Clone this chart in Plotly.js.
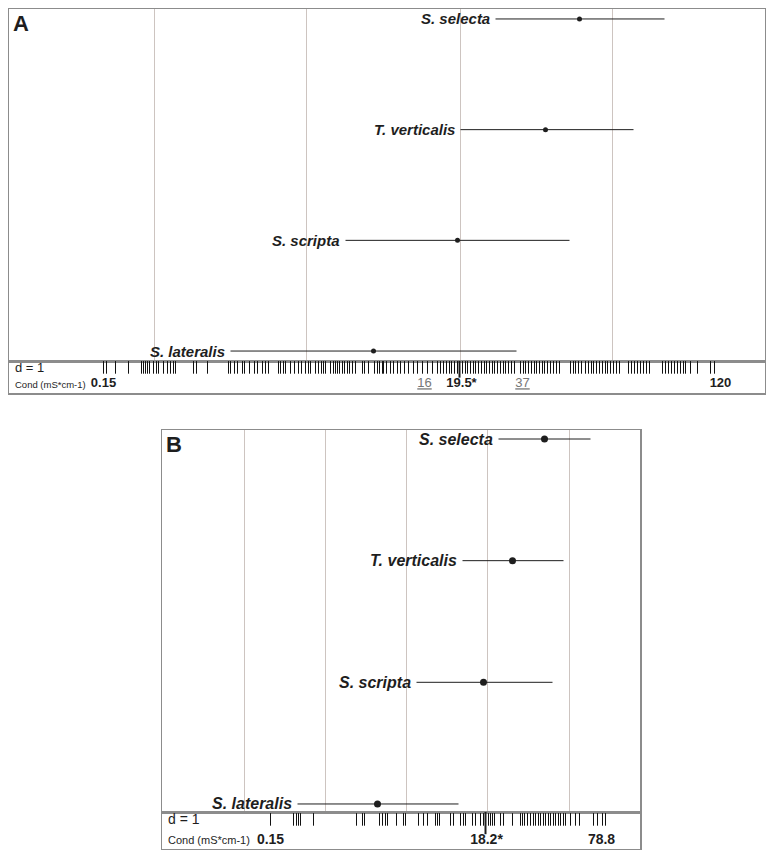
<!DOCTYPE html>
<html><head><meta charset="utf-8">
<script src="https://cdn.plot.ly/plotly-3.0.1.min.js"></script>
<style>html,body{margin:0;padding:0;background:#fff}</style>
</head><body><div id="chart" style="width:766px;height:850px"></div>
<script>
// ---------- DATA ----------
const species = ['S. lateralis', 'S. scripta', 'T. verticalis', 'S. selecta'];

// Panel A (x: position along the conductivity gradient, 0-756)
const ptA = [364, 448, 536, 570];
const loA = [221, 336, 451, 486];
const hiA = [507, 560, 624, 655];
const gridA = [145, 297, 451, 603];
const thrA = 450;
const rugA = [94, 97, 106, 119, 132, 134, 136, 138, 140, 144, 147, 149, 154, 158, 161, 164, 166,
  184, 187, 198, 219, 221, 225, 228, 233, 235, 240, 245, 248, 253, 256, 259, 269, 271, 274, 276, 281,
  285, 289, 292, 296, 299, 301, 306, 309, 312, 314, 316, 321, 324, 326, 328, 330, 333, 335, 338, 340,
  343, 346, 353, 355, 359, 365, 368, 370, 373, 374, 377, 381, 384, 388, 391, 395, 399, 404, 408, 413,
  418, 423, 428, 431, 434, 437, 440, 442, 445, 448, 453, 456, 458, 461, 464, 466, 469, 472, 475, 477,
  480, 483, 485, 488, 491, 494, 496, 499, 502, 505, 511, 514, 516, 519, 522, 525, 527, 530, 533, 535,
  538, 541, 544, 547, 550, 561, 564, 566, 569, 572, 576, 579, 582, 584, 587, 590, 593, 596, 598, 601,
  604, 607, 610, 619, 622, 625, 628, 631, 634, 637, 640, 653, 656, 659, 662, 665, 668, 671, 674, 676,
  681, 688, 701, 705];
const mainLabA = ['0.15', '19.5*', '120'];
const mainPosA = [94, 452, 711];
const quantLabA = ['16', '37'];
const quantPosA = [415, 513];

// Panel B (x: position along the conductivity gradient, 0-478)
const ptB = [215, 321, 350, 382];
const loB = [135, 254, 300, 336];
const hiB = [296, 390, 401, 428];
const gridB = [82, 163, 244, 325, 407];
const thrB = 323;
const rugB = [108, 131, 134, 136, 138, 151, 194, 200, 202, 217, 220, 223, 225, 234, 241, 243, 256,
  261, 265, 273, 275, 277, 288, 291, 298, 301, 303, 310, 313, 318, 321, 326, 328, 330, 332,
  338, 341, 350, 358, 360, 362, 365, 368, 371, 373, 376, 378, 381, 383, 386, 388, 391, 393,
  396, 398, 401, 403, 408, 413, 417, 431, 435, 440, 443];
const mainLabB = ['0.15', '18.2*', '78.8'];
const mainPosB = [108, 324, 439];

const panelLabels = ['A', 'B'];
const dLabel = 'd = 1';
const condLabel = 'Cond (mS*cm-1)';

// ---------- LAYOUT HELPERS ----------
const W = 766, H = 850;
const fx = p => p / W, fy = p => 1 - p / H;
const FONT = 'Liberation Sans, Arial, sans-serif';
const ink = '#1e1e1e';
const frame = '#8c8c8c';
const gridCol = '#cdc4c0';

const yIdx = species.map((_, i) => i);

function panel(n, pt, lo, hi, grid, thr, rug, mainLab, mainPos, quantLab, quantPos,
               box, xmax, ymain, yrug, o) {
  const xa = n === 0 ? ['x', 'y', 'x2', 'y2'] : ['x3', 'y3', 'x4', 'y4'];
  const xr = [-0.5, xmax - 0.5];
  const traces = [];
  traces.push({
    type: 'scatter', mode: 'markers', x: pt, y: yIdx, xaxis: xa[0], yaxis: xa[1],
    marker: {color: ink, size: o.dot},
    error_x: {type: 'data', symmetric: false,
      array: hi.map((h, i) => h - pt[i]), arrayminus: lo.map((l, i) => pt[i] - l),
      width: 0, thickness: 1, color: ink},
    hoverinfo: 'skip', showlegend: false
  });
  traces.push({
    type: 'scatter', mode: 'markers', x: rug, y: rug.map(() => o.rugY), xaxis: xa[2], yaxis: xa[3],
    marker: {symbol: 'line-ns-open', size: o.rugH, line: {width: 1, color: '#111'}, color: '#111'},
    hoverinfo: 'skip', showlegend: false
  });
  traces.push({
    type: 'scatter', mode: 'lines', x: [thr, thr], y: [o.thrY0, 1], xaxis: xa[2], yaxis: xa[3],
    line: {color: ink, width: 2}, hoverinfo: 'skip', showlegend: false
  });
  traces.push({
    type: 'scatter', mode: 'text', x: mainPos, y: mainPos.map(() => o.labY), xaxis: xa[2], yaxis: xa[3],
    text: mainLab.map(t => '<b>' + t + '</b>'), textposition: 'middle center',
    textfont: {family: FONT, size: o.tickFs, color: ink}, hoverinfo: 'skip', showlegend: false
  });
  if (quantLab) {
    traces.push({
      type: 'scatter', mode: 'text', x: quantPos, y: quantPos.map(() => o.labY), xaxis: xa[2], yaxis: xa[3],
      text: quantLab.map(t => '<u>' + t + '</u>'), textposition: 'middle center',
      textfont: {family: FONT, size: o.tickFs, color: '#777'}, hoverinfo: 'skip', showlegend: false
    });
  }
  const ax = {};
  const k = n === 0 ? ['xaxis', 'yaxis', 'xaxis2', 'yaxis2'] : ['xaxis3', 'yaxis3', 'xaxis4', 'yaxis4'];
  const common = {showline: true, mirror: true, linecolor: frame, linewidth: 1.5, zeroline: false,
    showticklabels: false, ticks: '', fixedrange: true};
  ax[k[0]] = Object.assign({}, common, {domain: box, range: xr, anchor: xa[1],
    tickvals: grid, showgrid: true, gridcolor: gridCol, gridwidth: 1});
  ax[k[1]] = Object.assign({}, common, {domain: ymain, range: o.yr, anchor: xa[0], showgrid: false});
  ax[k[2]] = Object.assign({}, common, {domain: box, range: xr, anchor: xa[3], showgrid: false});
  ax[k[3]] = Object.assign({}, common, {domain: yrug, range: [0, 1], anchor: xa[2], showgrid: false});

  const ann = species.map((s, i) => ({
    x: lo[i], y: i, xref: xa[0], yref: xa[1], xanchor: 'right', yanchor: 'middle', xshift: -4,
    text: '<b><i>' + s + '</i></b>', showarrow: false,
    font: {family: FONT, size: o.spFs, color: ink}
  }));
  ann.push({x: 3, y: o.dY, xref: xa[2], yref: xa[3], xanchor: 'left', yanchor: 'middle',
    text: dLabel, showarrow: false, font: {family: FONT, size: o.dFs, color: ink}});
  ann.push({x: 3, y: o.labY, xref: xa[2], yref: xa[3], xanchor: 'left', yanchor: 'middle',
    text: condLabel, showarrow: false, font: {family: FONT, size: o.condFs, color: ink}});
  ann.push({x: box[0] + fx(2), y: ymain[1] - o.pyOff, xref: 'paper', yref: 'paper',
    xanchor: 'left', yanchor: 'top', text: '<b>' + panelLabels[n] + '</b>', showarrow: false,
    font: {family: FONT, size: o.panFs, color: ink}});
  return {traces, ax, ann};
}

const A = panel(0, ptA, loA, hiA, gridA, thrA, rugA, mainLabA, mainPosA, quantLabA, quantPosA,
  [fx(9), fx(765)], 756, [fy(361), fy(9)], [fy(393), fy(361)],
  {dot: 5, rugH: 9, rugY: 0.8, thrY0: 0.48, labY: 0.28, dY: 0.8, yr: [-0.09, 3.09],
   spFs: 15, tickFs: 13, dFs: 13, condFs: 9.5, panFs: 22, pyOff: 0});
const B = panel(1, ptB, loB, hiB, gridB, thrB, rugB, mainLabB, mainPosB, null, null,
  [fx(162), fx(640)], 478, [fy(812), fy(430)], [fy(849), fy(812)],
  {dot: 7, rugH: 9, rugY: 0.8, thrY0: 0.4, labY: 0.24, dY: 0.82, yr: [-0.066, 3.074],
   spFs: 16, tickFs: 14, dFs: 14, condFs: 11, panFs: 22, pyOff: 0});

const layout = Object.assign({
  width: W, height: H, margin: {l: 0, r: 0, t: 0, b: 0},
  paper_bgcolor: '#fff', plot_bgcolor: '#fff', showlegend: false,
  font: {family: FONT, color: ink},
  annotations: A.ann.concat(B.ann)
}, A.ax, B.ax);

Plotly.newPlot('chart', A.traces.concat(B.traces), layout, {displayModeBar: false, staticPlot: true});
</script></body></html>
